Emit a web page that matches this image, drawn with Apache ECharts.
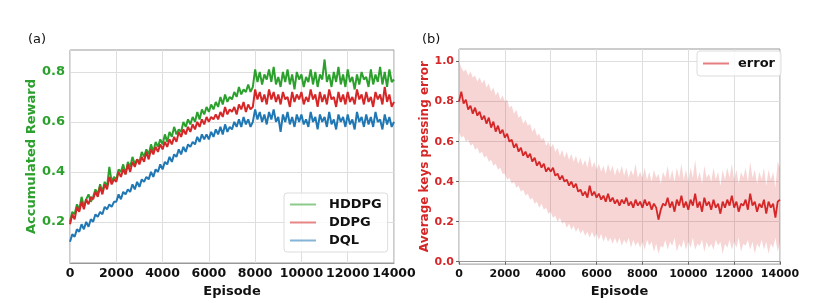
<!DOCTYPE html>
<html>
<head>
<meta charset="utf-8">
<script src="https://cdn.jsdelivr.net/npm/echarts@6/dist/echarts.min.js"></script>
<style>
  html, body { margin: 0; padding: 0; background: #fff; }
  #main { width: 820px; height: 303px; }
</style>
</head>
<body>
<div id="main"></div>
<script>
// sampled every 100 episodes, 0..14000
const STEP = 100;
const yTicksA = [0.2, 0.4, 0.6, 0.8];
const yTicksB = [0.0, 0.2, 0.4, 0.6, 0.8, 1.0];

// (a) accumulated reward
const hddpg = [
  0.20, 0.24, 0.23, 0.27, 0.25, 0.30, 0.26, 0.29, 0.31, 0.28,
  0.30, 0.33, 0.31, 0.35, 0.32, 0.36, 0.34, 0.42, 0.36, 0.38,
  0.37, 0.41, 0.40, 0.43, 0.39, 0.44, 0.42, 0.46, 0.43, 0.45,
  0.44, 0.48, 0.46, 0.49, 0.47, 0.51, 0.48, 0.52, 0.50, 0.53,
  0.51, 0.55, 0.52, 0.56, 0.54, 0.58, 0.55, 0.57, 0.56, 0.60,
  0.58, 0.61, 0.59, 0.62, 0.60, 0.64, 0.61, 0.65, 0.63, 0.66,
  0.64, 0.67, 0.65, 0.68, 0.66, 0.70, 0.67, 0.71, 0.68, 0.70,
  0.69, 0.72, 0.70, 0.74, 0.71, 0.73, 0.72, 0.75, 0.72, 0.74,
  0.81, 0.76, 0.80, 0.75, 0.79, 0.77, 0.81, 0.76, 0.82, 0.75,
  0.78, 0.74, 0.80, 0.76, 0.81, 0.75, 0.79, 0.73, 0.80, 0.77,
  0.79, 0.74, 0.78, 0.76, 0.81, 0.75, 0.80, 0.74, 0.79, 0.77,
  0.85, 0.76, 0.79, 0.74, 0.80, 0.76, 0.82, 0.75, 0.79, 0.74,
  0.81, 0.76, 0.78, 0.73, 0.79, 0.75, 0.80, 0.77, 0.78, 0.74,
  0.81, 0.75, 0.79, 0.76, 0.82, 0.75, 0.80, 0.74, 0.81, 0.76,
  0.77
];
const ddpg = [
  0.19, 0.23, 0.21, 0.26, 0.24, 0.28, 0.25, 0.29, 0.27, 0.30,
  0.29, 0.32, 0.30, 0.34, 0.31, 0.35, 0.33, 0.38, 0.35, 0.37,
  0.36, 0.40, 0.38, 0.41, 0.39, 0.43, 0.40, 0.44, 0.42, 0.45,
  0.43, 0.46, 0.44, 0.48, 0.45, 0.49, 0.47, 0.50, 0.48, 0.51,
  0.49, 0.52, 0.50, 0.53, 0.51, 0.54, 0.52, 0.56, 0.54, 0.57,
  0.55, 0.58, 0.56, 0.59, 0.57, 0.60, 0.58, 0.61, 0.59, 0.62,
  0.60, 0.62, 0.61, 0.63, 0.61, 0.64, 0.62, 0.66, 0.63, 0.65,
  0.64, 0.66, 0.63, 0.67, 0.65, 0.68, 0.64, 0.67, 0.65, 0.66,
  0.73, 0.69, 0.72, 0.68, 0.71, 0.67, 0.73, 0.69, 0.72, 0.68,
  0.71, 0.67, 0.72, 0.69, 0.70, 0.66, 0.72, 0.68, 0.71, 0.69,
  0.72, 0.67, 0.70, 0.68, 0.73, 0.69, 0.71, 0.66, 0.72, 0.68,
  0.71, 0.67, 0.73, 0.69, 0.70, 0.66, 0.72, 0.68, 0.71, 0.67,
  0.72, 0.68, 0.70, 0.67, 0.73, 0.69, 0.71, 0.67, 0.72, 0.68,
  0.70, 0.66, 0.72, 0.69, 0.71, 0.67, 0.74, 0.68, 0.71, 0.66,
  0.68
];
const dql = [
  0.12, 0.15, 0.14, 0.17, 0.16, 0.19, 0.17, 0.20, 0.18, 0.21,
  0.20, 0.23, 0.22, 0.24, 0.23, 0.26, 0.25, 0.27, 0.26, 0.28,
  0.28, 0.31, 0.29, 0.32, 0.31, 0.33, 0.32, 0.35, 0.33, 0.36,
  0.34, 0.37, 0.36, 0.38, 0.37, 0.40, 0.38, 0.41, 0.40, 0.43,
  0.41, 0.44, 0.43, 0.46, 0.44, 0.47, 0.46, 0.49, 0.47, 0.50,
  0.48, 0.51, 0.50, 0.52, 0.51, 0.54, 0.52, 0.55, 0.53, 0.55,
  0.53, 0.56, 0.54, 0.57, 0.55, 0.58, 0.55, 0.59, 0.56, 0.58,
  0.57, 0.60, 0.58, 0.61, 0.58, 0.62, 0.59, 0.61, 0.58, 0.60,
  0.65, 0.61, 0.64, 0.60, 0.63, 0.59, 0.64, 0.61, 0.65, 0.60,
  0.62, 0.56, 0.63, 0.60, 0.64, 0.59, 0.62, 0.58, 0.63, 0.60,
  0.63, 0.59, 0.61, 0.58, 0.64, 0.60, 0.62, 0.57, 0.63, 0.60,
  0.62, 0.58, 0.64, 0.59, 0.61, 0.57, 0.63, 0.60, 0.62, 0.58,
  0.63, 0.59, 0.61, 0.57, 0.64, 0.60, 0.62, 0.58, 0.63, 0.59,
  0.62, 0.58, 0.64, 0.60, 0.61, 0.57, 0.63, 0.59, 0.62, 0.58,
  0.60
];

// (b) average keys pressing error: mean and shaded band
const errMean = [
  0.80, 0.85, 0.79, 0.81, 0.76, 0.78, 0.74, 0.77, 0.73, 0.75,
  0.71, 0.73, 0.69, 0.72, 0.67, 0.70, 0.65, 0.68, 0.64, 0.66,
  0.62, 0.64, 0.60, 0.61, 0.57, 0.59, 0.55, 0.57, 0.53, 0.55,
  0.52, 0.54, 0.50, 0.52, 0.48, 0.50, 0.47, 0.49, 0.45, 0.47,
  0.45, 0.47, 0.43, 0.44, 0.41, 0.43, 0.40, 0.41, 0.38, 0.40,
  0.37, 0.39, 0.35, 0.36, 0.33, 0.35, 0.32, 0.38, 0.33, 0.35,
  0.32, 0.34, 0.31, 0.33, 0.30, 0.34, 0.30, 0.32, 0.29, 0.31,
  0.28, 0.31, 0.29, 0.32, 0.28, 0.30, 0.27, 0.31, 0.28, 0.30,
  0.27, 0.31, 0.28, 0.30, 0.26, 0.29, 0.27, 0.21, 0.26, 0.29,
  0.28, 0.32, 0.27, 0.30, 0.25, 0.31, 0.28, 0.33, 0.27, 0.30,
  0.26, 0.31, 0.28, 0.34, 0.27, 0.30, 0.25, 0.32, 0.28, 0.30,
  0.26, 0.31, 0.27, 0.29, 0.24, 0.30, 0.27, 0.31, 0.28, 0.33,
  0.27, 0.30, 0.25, 0.29, 0.28, 0.31, 0.26, 0.34, 0.28, 0.30,
  0.25, 0.29, 0.27, 0.31, 0.24, 0.30, 0.27, 0.29, 0.22, 0.30,
  0.31
];
const errUpper = [
  1.00, 0.97, 0.95, 0.96, 0.93, 0.95, 0.92, 0.93, 0.90, 0.92,
  0.89, 0.91, 0.87, 0.89, 0.85, 0.87, 0.83, 0.85, 0.81, 0.83,
  0.80, 0.81, 0.77, 0.78, 0.74, 0.76, 0.72, 0.73, 0.69, 0.71,
  0.68, 0.69, 0.65, 0.67, 0.63, 0.64, 0.61, 0.62, 0.58, 0.60,
  0.57, 0.59, 0.55, 0.57, 0.53, 0.56, 0.52, 0.55, 0.51, 0.54,
  0.50, 0.53, 0.49, 0.52, 0.48, 0.51, 0.47, 0.53, 0.47, 0.50,
  0.46, 0.49, 0.45, 0.48, 0.44, 0.49, 0.45, 0.48, 0.43, 0.47,
  0.44, 0.48, 0.43, 0.47, 0.42, 0.46, 0.43, 0.49, 0.42, 0.45,
  0.42, 0.47, 0.41, 0.45, 0.40, 0.46, 0.42, 0.44, 0.39, 0.45,
  0.42, 0.48, 0.41, 0.46, 0.40, 0.47, 0.42, 0.49, 0.41, 0.46,
  0.40, 0.47, 0.42, 0.51, 0.41, 0.45, 0.39, 0.48, 0.42, 0.44,
  0.40, 0.47, 0.41, 0.45, 0.38, 0.46, 0.41, 0.47, 0.42, 0.49,
  0.41, 0.46, 0.39, 0.45, 0.42, 0.47, 0.40, 0.50, 0.42, 0.46,
  0.39, 0.45, 0.41, 0.47, 0.38, 0.46, 0.41, 0.45, 0.37, 0.50,
  0.47
];
const errLower = [
  0.65, 0.62, 0.63, 0.60, 0.61, 0.58, 0.59, 0.56, 0.57, 0.54,
  0.55, 0.52, 0.53, 0.50, 0.51, 0.48, 0.49, 0.46, 0.47, 0.44,
  0.44, 0.41, 0.42, 0.39, 0.40, 0.37, 0.38, 0.35, 0.36, 0.33,
  0.34, 0.31, 0.32, 0.29, 0.30, 0.27, 0.29, 0.26, 0.27, 0.24,
  0.25, 0.22, 0.23, 0.20, 0.22, 0.19, 0.20, 0.17, 0.19, 0.16,
  0.18, 0.15, 0.17, 0.14, 0.16, 0.13, 0.15, 0.12, 0.15, 0.12,
  0.14, 0.11, 0.14, 0.10, 0.13, 0.10, 0.12, 0.09, 0.12, 0.09,
  0.12, 0.08, 0.11, 0.09, 0.12, 0.07, 0.11, 0.08, 0.10, 0.07,
  0.10, 0.06, 0.11, 0.08, 0.10, 0.05, 0.09, 0.04, 0.08, 0.07,
  0.11, 0.06, 0.10, 0.08, 0.12, 0.05, 0.09, 0.07, 0.11, 0.06,
  0.10, 0.07, 0.12, 0.06, 0.09, 0.08, 0.11, 0.05, 0.10, 0.07,
  0.09, 0.06, 0.11, 0.08, 0.10, 0.04, 0.09, 0.07, 0.11, 0.06,
  0.10, 0.07, 0.12, 0.05, 0.09, 0.08, 0.11, 0.06, 0.10, 0.04,
  0.09, 0.07, 0.11, 0.06, 0.10, 0.04, 0.09, 0.07, 0.12, 0.05,
  0.10
];

const episodes = hddpg.map((_, i) => i * STEP);
const pairs = arr => arr.map((v, i) => [episodes[i], v]);
const bandWidth = errUpper.map((v, i) => +(v - errLower[i]).toFixed(3));

const FONT = 'DejaVu Sans';
const GREEN = '#2ca02c';
const RED = '#d62728';
const BLUE = '#1f77b4';
const GRID_LINE = { lineStyle: { color: '#dedede' } };
const nameFont = { fontFamily: FONT, fontWeight: 'bold', fontSize: 13, color: '#111' };

const chart = echarts.init(document.getElementById('main'));

const option = {
  animation: false,
  backgroundColor: '#fff',
  title: [
    { text: '(a)', left: 23, top: 28, textStyle: { fontFamily: FONT, fontWeight: 'normal', fontSize: 13, color: '#111' } },
    { text: '(b)', left: 417, top: 28, textStyle: { fontFamily: FONT, fontWeight: 'normal', fontSize: 13, color: '#111' } }
  ],
  grid: [
    { left: 70, right: 426, top: 50, bottom: 40, show: true, borderColor: '#999', borderWidth: 1 },
    { left: 459, right: 40, top: 49, bottom: 36, show: true, borderColor: '#999', borderWidth: 1 }
  ],
  legend: [
    {
      data: ['HDDPG', 'DDPG', 'DQL'],
      orient: 'vertical',
      left: 284,
      top: 193,
      icon: 'rect',
      itemWidth: 26,
      itemHeight: 2,
      itemGap: 5,
      padding: [5, 6],
      borderColor: '#ddd',
      borderWidth: 1,
      borderRadius: 3,
      backgroundColor: 'rgba(255,255,255,0.85)',
      itemStyle: { opacity: 0.55 },
      textStyle: { fontFamily: FONT, fontWeight: 'bold', fontSize: 13, color: '#111', padding: [0, 0, 0, 8] }
    },
    {
      data: ['error'],
      left: 697,
      top: 51,
      icon: 'rect',
      itemWidth: 26,
      itemHeight: 2,
      padding: [6, 6],
      borderColor: '#ddd',
      borderWidth: 1,
      borderRadius: 3,
      backgroundColor: 'rgba(255,255,255,0.85)',
      itemStyle: { opacity: 0.6 },
      textStyle: { fontFamily: FONT, fontWeight: 'bold', fontSize: 13, color: '#111', padding: [0, 0, 0, 4] }
    }
  ],
  xAxis: [
    {
      gridIndex: 0,
      type: 'value',
      min: 0,
      max: 14000,
      interval: 2000,
      name: 'Episode',
      nameLocation: 'middle',
      nameGap: 16,
      nameTextStyle: nameFont,
      axisLine: { lineStyle: { color: '#999' } },
      axisTick: { show: false },
      axisLabel: {
        fontFamily: FONT, fontWeight: 'bold', fontSize: 12.5, color: '#111', margin: 4,
        showMinLabel: true, showMaxLabel: true, formatter: v => String(v)
      },
      splitLine: GRID_LINE
    },
    {
      gridIndex: 1,
      type: 'category',
      data: episodes,
      boundaryGap: false,
      name: 'Episode',
      nameLocation: 'middle',
      nameGap: 15,
      nameTextStyle: nameFont,
      axisLine: { lineStyle: { color: '#999' } },
      axisTick: { show: true, interval: 19, length: 3, lineStyle: { color: '#666' } },
      axisLabel: { fontFamily: FONT, fontWeight: 'bold', fontSize: 11, color: '#111', margin: 5, interval: 19, showMaxLabel: true },
      splitLine: { show: true, interval: 19, lineStyle: { color: '#dedede' } }
    }
  ],
  yAxis: [
    {
      gridIndex: 0,
      type: 'value',
      min: 0.035,
      max: 0.888,
      name: 'Accumulated Reward',
      nameLocation: 'middle',
      nameGap: 24,
      nameTextStyle: { fontFamily: FONT, fontWeight: 'bold', fontSize: 13, color: GREEN },
      axisLine: { show: false },
      axisTick: { show: false, customValues: yTicksA },
      axisLabel: { fontFamily: FONT, fontWeight: 'bold', fontSize: 13, color: GREEN, margin: 5, customValues: yTicksA, formatter: v => v.toFixed(1) },
      splitLine: GRID_LINE
    },
    {
      gridIndex: 1,
      type: 'value',
      min: -0.012,
      max: 1.063,
      name: 'Average keys pressing error',
      nameLocation: 'middle',
      nameGap: 21,
      nameTextStyle: { fontFamily: FONT, fontWeight: 'bold', fontSize: 12, color: RED },
      axisLine: { show: false },
      axisTick: { show: true, length: 3, customValues: yTicksB, lineStyle: { color: '#666' } },
      axisLabel: { fontFamily: FONT, fontWeight: 'bold', fontSize: 11, color: RED, margin: 5, customValues: yTicksB, formatter: v => v.toFixed(1) },
      splitLine: GRID_LINE
    }
  ],
  series: [
    {
      name: 'HDDPG', type: 'line', xAxisIndex: 0, yAxisIndex: 0,
      showSymbol: false, symbol: 'none', color: GREEN,
      lineStyle: { width: 2, color: GREEN },
      data: pairs(hddpg)
    },
    {
      name: 'DDPG', type: 'line', xAxisIndex: 0, yAxisIndex: 0,
      showSymbol: false, symbol: 'none', color: RED,
      lineStyle: { width: 2, color: RED },
      data: pairs(ddpg)
    },
    {
      name: 'DQL', type: 'line', xAxisIndex: 0, yAxisIndex: 0,
      showSymbol: false, symbol: 'none', color: BLUE,
      lineStyle: { width: 2, color: BLUE },
      data: pairs(dql)
    },
    {
      name: 'bandLow', type: 'line', xAxisIndex: 1, yAxisIndex: 1,
      stack: 'band', symbol: 'none', silent: true,
      lineStyle: { opacity: 0 },
      data: errLower
    },
    {
      name: 'bandHigh', type: 'line', xAxisIndex: 1, yAxisIndex: 1,
      stack: 'band', symbol: 'none', silent: true,
      lineStyle: { opacity: 0 },
      areaStyle: { color: 'rgba(214,39,40,0.28)' },
      data: bandWidth
    },
    {
      name: 'error', type: 'line', xAxisIndex: 1, yAxisIndex: 1,
      showSymbol: false, symbol: 'none', color: RED,
      lineStyle: { width: 1.8, color: RED },
      data: errMean
    }
  ]
};

chart.setOption(option);
</script>
</body>
</html>
